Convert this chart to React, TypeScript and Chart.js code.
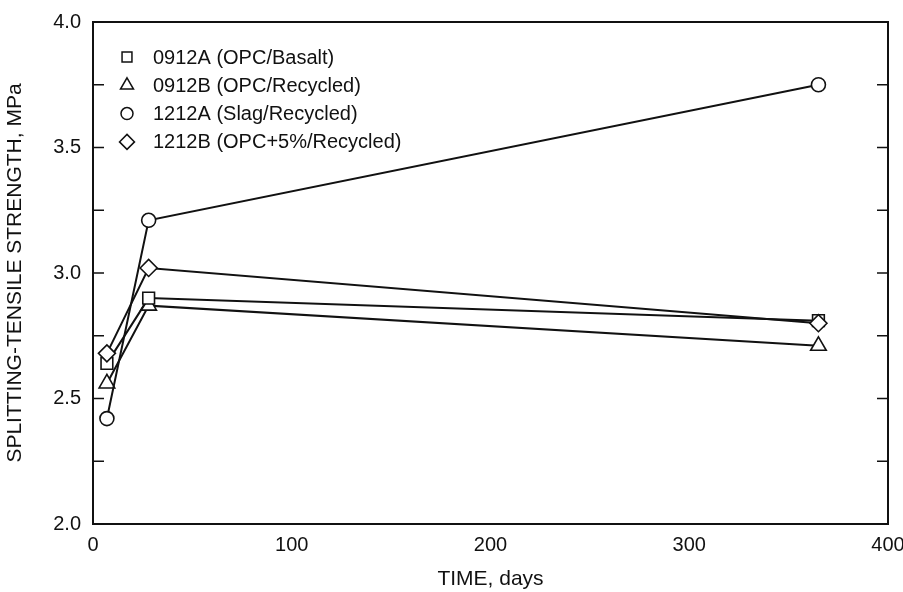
import React, { useEffect, useRef } from 'react';
import { Chart, registerables } from 'chart.js';

Chart.register(...registerables);

// ---- data ----
const days = [7, 28, 365];
const series0912A = [2.64, 2.9, 2.81];
const series0912B = [2.56, 2.87, 2.71];
const series1212A = [2.42, 3.21, 3.75];
const series1212B = [2.68, 3.02, 2.8];
const seriesLabels = [
  '0912A (OPC/Basalt)',
  '0912B (OPC/Recycled)',
  '1212A (Slag/Recycled)',
  '1212B (OPC+5%/Recycled)',
];
const seriesMarkers = ['rect', 'triangle', 'circle', 'rectRot'];
const xTickValues = [0, 100, 200, 300, 400];
const yTickValues = [2.0, 2.5, 3.0, 3.5, 4.0];
const yMinorStep = 0.25;
const xTitle = 'TIME, days';
const yTitle = 'SPLITTING-TENSILE STRENGTH, MPa';

const FONT = "'Liberation Sans', Arial, Helvetica, sans-serif";
const INK = '#111';

function drawMarker(ctx: CanvasRenderingContext2D, style: string, x: number, y: number, r: number) {
  ctx.beginPath();
  if (style === 'rect') {
    const s = Math.SQRT1_2 * r;
    ctx.rect(x - s, y - s, 2 * s, 2 * s);
  } else if (style === 'triangle') {
    for (let i = 0; i < 3; i++) {
      const a = -Math.PI / 2 + (i * 2 * Math.PI) / 3;
      const px = x + Math.cos(a) * r;
      const py = y + Math.sin(a) * r;
      if (i === 0) ctx.moveTo(px, py);
      else ctx.lineTo(px, py);
    }
    ctx.closePath();
  } else if (style === 'circle') {
    ctx.arc(x, y, r, 0, Math.PI * 2);
  } else {
    ctx.moveTo(x, y - r);
    ctx.lineTo(x + r, y);
    ctx.lineTo(x, y + r);
    ctx.lineTo(x - r, y);
    ctx.closePath();
  }
  ctx.fillStyle = '#fff';
  ctx.fill();
  ctx.stroke();
}

const framePlugin = {
  id: 'frameTicks',
  beforeDatasetsDraw(chart: any) {
    const { ctx, chartArea } = chart;
    const { left, right, top, bottom } = chartArea;
    const yScale = chart.scales.y;
    ctx.save();
    ctx.strokeStyle = INK;
    ctx.lineWidth = 2;
    ctx.strokeRect(left, top, right - left, bottom - top);
    ctx.lineWidth = 1.6;
    const tickLen = 11;
    yScale.ticks.forEach((t: any) => {
      const py = yScale.getPixelForValue(t.value);
      ctx.beginPath();
      ctx.moveTo(left, py);
      ctx.lineTo(left + tickLen, py);
      ctx.moveTo(right, py);
      ctx.lineTo(right - tickLen, py);
      ctx.stroke();
    });
    ctx.restore();
  },
};

const legendPlugin = {
  id: 'insideLegend',
  afterDraw(chart: any) {
    const { ctx } = chart;
    ctx.save();
    const markerX = 127;
    const textX = 153;
    const startY = 57;
    const rowGap = 28.3;
    const radii = [7, 7.5, 6, 7.5];
    ctx.font = `20px ${FONT}`;
    ctx.textBaseline = 'middle';
    ctx.textAlign = 'left';
    seriesLabels.forEach((label, i) => {
      const y = startY + i * rowGap;
      ctx.strokeStyle = INK;
      ctx.lineWidth = 1.5;
      drawMarker(ctx, seriesMarkers[i], markerX, y, radii[i]);
      ctx.fillStyle = INK;
      ctx.fillText(label, textX, y + 1);
    });
    ctx.restore();
  },
};

export default function App() {
  const canvasRef = useRef<HTMLCanvasElement | null>(null);

  useEffect(() => {
    document.body.style.margin = '0';
    const canvas = canvasRef.current;
    if (!canvas) return;

    const allSeries = [series0912A, series0912B, series1212A, series1212B];
    const radii = [8.3, 9, 7, 8.5];
    const orders = [2, 3, 1, 0];

    const datasets = allSeries.map((vals, i) => ({
      label: seriesLabels[i],
      data: days.map((d, j) => ({ x: d, y: vals[j] })),
      borderColor: INK,
      borderWidth: 2,
      backgroundColor: '#fff',
      pointStyle: seriesMarkers[i] as any,
      pointRadius: radii[i],
      pointBorderWidth: 1.6,
      pointBorderColor: INK,
      pointBackgroundColor: '#fff',
      tension: 0,
      fill: false,
      order: orders[i],
    }));

    const chart = new Chart(canvas, {
      type: 'line',
      data: { datasets },
      options: {
        responsive: false,
        animation: false,
        layout: { padding: { top: 22, right: 15, left: 0, bottom: 0 } },
        plugins: {
          legend: { display: false },
          tooltip: { enabled: false },
        },
        scales: {
          x: {
            type: 'linear',
            min: xTickValues[0],
            max: xTickValues[xTickValues.length - 1],
            grid: { display: false, drawTicks: false },
            border: { display: false },
            afterBuildTicks: (scale: any) => {
              scale.ticks = xTickValues.map((v) => ({ value: v }));
            },
            ticks: {
              color: INK,
              font: { family: FONT, size: 20 },
              padding: 9,
              maxRotation: 0,
              autoSkip: false,
              callback: (v: any) => String(v),
            },
            title: {
              display: true,
              text: xTitle,
              color: INK,
              font: { family: FONT, size: 21 },
              padding: { top: 0, bottom: 0 },
            },
            afterFit: (scale: any) => {
              scale.height = 68;
              scale.paddingLeft = 0;
              scale.paddingRight = 0;
            },
          } as any,
          y: {
            type: 'linear',
            min: yTickValues[0],
            max: yTickValues[yTickValues.length - 1],
            grid: { display: false, drawTicks: false },
            border: { display: false },
            ticks: {
              stepSize: yMinorStep,
              autoSkip: false,
              color: INK,
              font: { family: FONT, size: 20 },
              padding: 12,
              callback: (v: any) =>
                yTickValues.some((t) => Math.abs(t - Number(v)) < 1e-9) ? Number(v).toFixed(1) : '',
            },
            title: {
              display: true,
              text: yTitle,
              color: INK,
              font: { family: FONT, size: 21 },
              padding: { top: 3, bottom: 0 },
            },
            afterFit: (scale: any) => {
              scale.width = 93;
              scale.paddingTop = 0;
              scale.paddingBottom = 0;
            },
          } as any,
        },
      },
      plugins: [framePlugin, legendPlugin],
    });

    return () => chart.destroy();
  }, []);

  return (
    <div style={{ width: 903, height: 592, background: '#fff' }}>
      <canvas ref={canvasRef} width={903} height={592} style={{ display: 'block' }} />
    </div>
  );
}
